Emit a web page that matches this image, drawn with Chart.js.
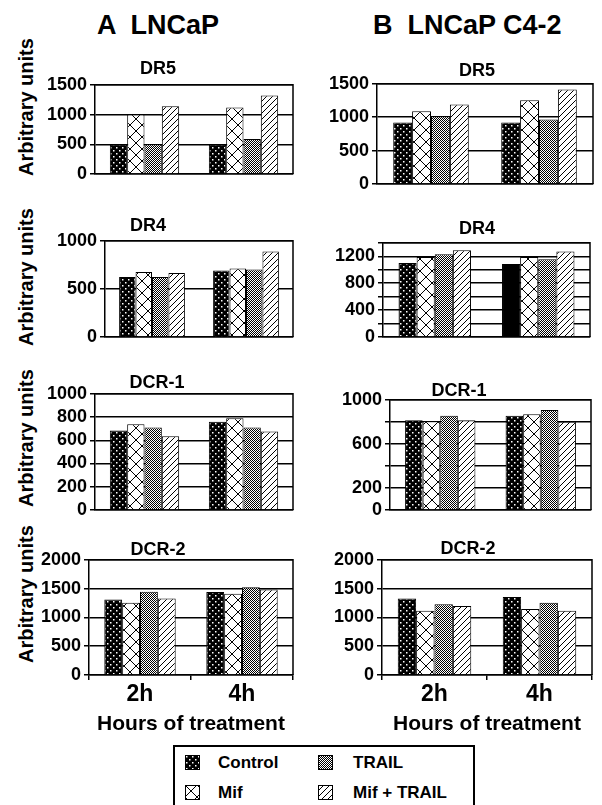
<!DOCTYPE html>
<html><head><meta charset="utf-8">
<script src="https://cdn.jsdelivr.net/npm/chart.js@4.4.0/dist/chart.umd.min.js"></script>
<style>
html,body{margin:0;padding:0;background:#fff;}
body{width:602px;height:805px;position:relative;overflow:hidden;font-family:"Liberation Sans",Arial,sans-serif;font-weight:bold;color:#000;}
.hdr{position:absolute;font-size:27px;white-space:pre;line-height:30px;}
.st{position:absolute;font-size:18px;transform:translate(-50%,-50%);white-space:nowrap;}
.yl{position:absolute;font-size:20px;transform:translate(-50%,-50%) rotate(-90deg);white-space:nowrap;}
.legend{position:absolute;left:173px;top:745px;width:302px;height:70px;border:2px solid #000;box-sizing:border-box;}
.li{position:absolute;font-size:17px;line-height:20px;white-space:pre;}
.sw{position:absolute;width:15px;height:15px;}
</style></head><body>
<script>
// ---------- DATA ----------
const timePoints = ['2h', '4h'];
const seriesNames = ['Control', 'Mif', 'TRAIL', 'Mif + TRAIL'];
const panelTitles = ['A  LNCaP', 'B  LNCaP C4-2'];
const receptorNames = ['DR5', 'DR4', 'DCR-1', 'DCR-2'];
const yAxisTitle = 'Arbitrary units';
const xAxisTitle = 'Hours of treatment';

// rows = series (Control, Mif, TRAIL, Mif + TRAIL), columns = timePoints (2h, 4h)
const lncapDR5  = [[490, 490], [1000, 1120], [500, 590], [1140, 1320]];
const lncapDR4  = [[625, 690], [675, 712], [625, 702], [665, 890]];
const lncapDCR1 = [[685, 760], [738, 790], [710, 710], [634, 676]];
const lncapDCR2 = [[1310, 1440], [1255, 1410], [1445, 1525], [1330, 1485]];
const c42DR5  = [[920, 920], [1090, 1255], [1015, 965], [1190, 1415]];
const c42DR4  = [[1100, 1085], [1190, 1190], [1230, 1155], [1290, 1270]];
const c42DCR1 = [[815, 855], [805, 870], [855, 908], [815, 800]];
const c42DCR2 = [[1330, 1355], [1115, 1145], [1230, 1255], [1200, 1115]];

// y-axis gridline values and the tick labels shown
const ticks1500 = [0, 500, 1000, 1500];
const ticks1000by500 = [0, 500, 1000];
const ticks1000by200 = [0, 200, 400, 600, 800, 1000];
const ticks2000 = [0, 500, 1000, 1500, 2000];
const ticks1400grid = [0, 200, 400, 600, 800, 1000, 1200, 1400];
const ticks1400labels = [0, 400, 800, 1200];
const ticksDCR1grid = [0, 200, 400, 600, 800, 1000];
const ticksDCR1labels = [0, 200, 600, 1000];

// ---------- PATTERNS ----------
function makePatterns() {
  function mk(w, h, draw) { const c = document.createElement('canvas'); c.width = w; c.height = h; draw(c.getContext('2d'), w, h); return c; }
  const control = mk(6, 6, x => { x.fillStyle = '#000'; x.fillRect(0, 0, 6, 6); x.fillStyle = '#fff'; x.fillRect(1, 1, 1.5, 1.5); x.fillRect(4, 4, 1.5, 1.5); });
  const mif = mk(12, 12, x => { x.fillStyle = '#fff'; x.fillRect(0, 0, 12, 12); x.strokeStyle = '#000'; x.lineWidth = 1; x.beginPath(); x.moveTo(0, 0); x.lineTo(12, 12); x.moveTo(12, 0); x.lineTo(0, 12); x.stroke(); });
  const trail = mk(2, 2, x => { x.fillStyle = '#fff'; x.fillRect(0, 0, 2, 2); x.fillStyle = '#000'; x.fillRect(0, 0, 1, 1); x.fillRect(1, 1, 1, 1); });
  const mt = mk(6, 6, x => { x.fillStyle = '#fff'; x.fillRect(0, 0, 6, 6); x.strokeStyle = '#000'; x.lineWidth = 1; x.beginPath(); x.moveTo(-1, 7); x.lineTo(7, -1); x.moveTo(-1, 1); x.lineTo(1, -1); x.moveTo(5, 7); x.lineTo(7, 5); x.stroke(); });
  const ctx = document.createElement('canvas').getContext('2d');
  return [control, mif, trail, mt].map(c => ctx.createPattern(c, 'repeat'));
}
const pats = makePatterns();

const FONT = '"Liberation Sans", Arial, sans-serif';

// ---------- LAYOUT (positions only) ----------
const panels = [
  { values: lncapDR5,  grid: ticks1500, labels: ticks1500, col: 0, row: 0, L: 95,  R: 293, T: 82.5, B: 173.5, tx: 158, ty: 68,  yl: 107 },
  { values: lncapDR4,  grid: ticks1000by500, labels: ticks1000by500, col: 0, row: 1, L: 105, R: 293, T: 239, B: 337, tx: 148, ty: 225, yl: 277 },
  { values: lncapDCR1, grid: ticks1000by200, labels: ticks1000by200, col: 0, row: 2, L: 95,  R: 293, T: 392, B: 510, tx: 157, ty: 382, yl: 438 },
  { values: lncapDCR2, grid: ticks2000, labels: ticks2000, col: 0, row: 3, L: 89,  R: 293, T: 558, B: 675, tx: 158, ty: 549, yl: 594 },
  { values: c42DR5,  grid: ticks1500, labels: ticks1500, col: 1, row: 0, L: 377, R: 593, T: 82,  B: 184, tx: 477, ty: 70 },
  { values: c42DR4,  grid: ticks1400grid, labels: ticks1400labels, col: 1, row: 1, L: 383, R: 590, T: 241, B: 337, tx: 477, ty: 228, solidControl4h: true },
  { values: c42DCR1, grid: ticksDCR1grid, labels: ticksDCR1labels, col: 1, row: 2, L: 390, R: 591, T: 398, B: 510, tx: 459, ty: 390 },
  { values: c42DCR2, grid: ticks2000, labels: ticks2000, col: 1, row: 3, L: 382, R: 592, T: 558, B: 675, tx: 468, ty: 548 }
];

function addDiv(cls, text, css) { const d = document.createElement('div'); d.className = cls; d.textContent = text; d.style.cssText = css; document.body.appendChild(d); return d; }

addDiv('hdr', panelTitles[0], 'left:97px;top:10px;');
addDiv('hdr', panelTitles[1], 'left:373px;top:10px;');

const framePlugin = {
  id: 'frame',
  afterDraw(chart) {
    const a = chart.chartArea, c = chart.ctx;
    c.save(); c.strokeStyle = '#000'; c.lineWidth = 1.5;
    c.beginPath(); c.moveTo(a.left, a.top); c.lineTo(a.right, a.top); c.lineTo(a.right, a.bottom); c.stroke();
    c.restore();
  }
};

panels.forEach(p => {
  const bottom = p.row === 3;
  const left = p.col === 0 ? 40 : 330;
  const top = p.T - 12;
  const xh = bottom ? 62 : 14;
  const width = p.R + 4 - left;
  const height = (p.B - top) + xh;
  const wrap = document.createElement('div');
  wrap.style.cssText = `position:absolute;left:${left}px;top:${top}px;width:${width}px;height:${height}px;`;
  const cv = document.createElement('canvas');
  wrap.appendChild(cv); document.body.appendChild(wrap);

  addDiv('st', receptorNames[p.row], `left:${p.tx}px;top:${p.ty}px;`);
  if (p.col === 0) addDiv('yl', yAxisTitle, `left:26px;top:${p.yl}px;`);

  new Chart(cv, {
    type: 'bar',
    data: {
      labels: timePoints,
      datasets: seriesNames.map((n, i) => ({
        label: n,
        data: p.values[i],
        backgroundColor: (p.solidControl4h && i === 0) ? [pats[0], '#000'] : pats[i],
        borderColor: '#000', borderWidth: 1,
        categoryPercentage: 0.7, barPercentage: 1.0
      }))
    },
    options: {
      responsive: true, maintainAspectRatio: false, animation: false,
      layout: { padding: { top: 12, right: 4, left: 0, bottom: 0 } },
      plugins: { legend: { display: false }, tooltip: { enabled: false }, title: { display: false } },
      scales: {
        x: {
          grid: { display: bottom, drawOnChartArea: false, drawTicks: true, tickLength: 5, color: '#000', lineWidth: 1.5 },
          border: { display: true, color: '#000', width: 1.5 },
          ticks: { display: bottom, color: '#000', font: { family: FONT, size: 23, weight: 'bold' }, padding: 1 },
          title: { display: bottom, text: xAxisTitle, color: '#000', font: { family: FONT, size: 21, weight: 'bold' }, padding: { top: 0, bottom: 0 } },
          afterFit: s => { s.height = xh; }
        },
        y: {
          min: 0, max: p.grid[p.grid.length - 1],
          afterBuildTicks: s => { s.ticks = p.grid.map(v => ({ value: v })); },
          ticks: { autoSkip: false, callback: v => p.labels.includes(v) ? String(v) : '', color: '#000', font: { family: FONT, size: 18, weight: 'bold' }, padding: 3 },
          grid: { color: '#000', lineWidth: 1.5, tickLength: 5, drawTicks: true },
          border: { display: true, color: '#000', width: 1.5 },
          afterFit: s => { s.width = p.L - left; }
        }
      }
    },
    plugins: [framePlugin]
  });
});

// ---------- LEGEND ----------
const leg = document.createElement('div'); leg.className = 'legend'; document.body.appendChild(leg);
const legPos = [[185, 218, 763], [185, 218, 793], [318, 353, 763], [318, 353, 793]];
seriesNames.forEach((name, si) => {
  const [sx, tx, cy] = legPos[si];
  const c = document.createElement('canvas'); c.width = 15; c.height = 15; c.className = 'sw';
  c.style.left = sx + 'px'; c.style.top = (cy - 8) + 'px';
  const g = c.getContext('2d'); g.fillStyle = pats[si]; g.fillRect(0, 0, 15, 15); g.strokeStyle = '#000'; g.lineWidth = 1; g.strokeRect(0.5, 0.5, 14, 14);
  document.body.appendChild(c);
  addDiv('li', name, `left:${tx}px;top:${cy - 10}px;`);
});
</script>
</body></html>
